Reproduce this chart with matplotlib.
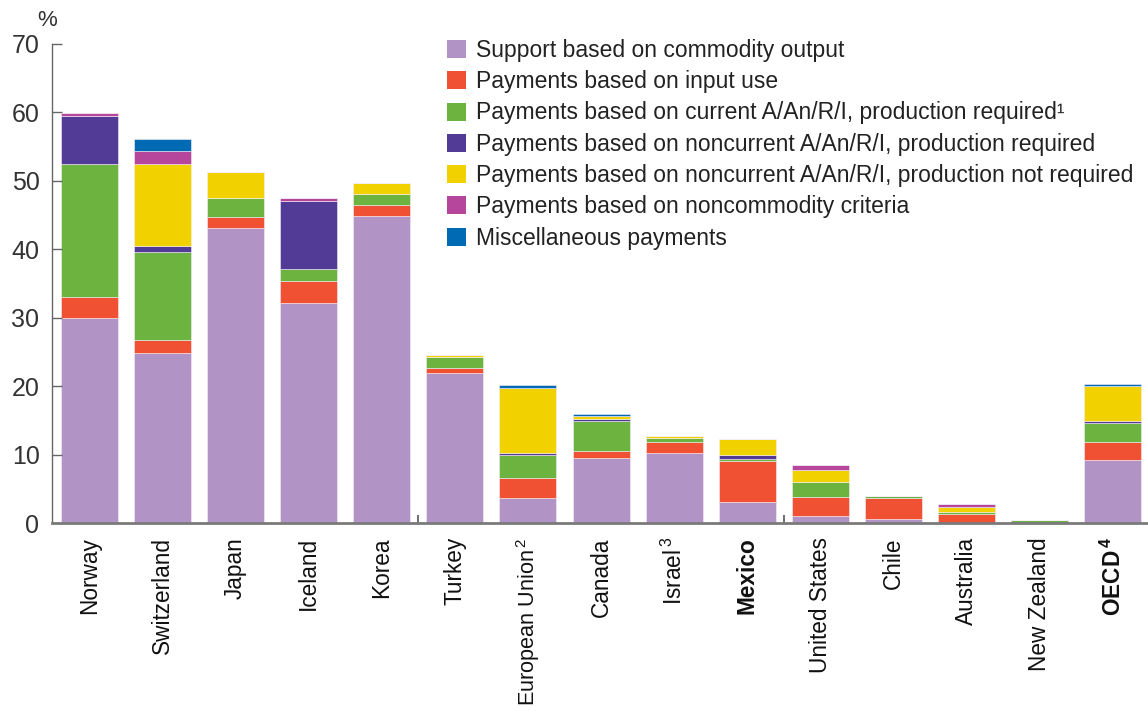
import matplotlib
matplotlib.use("Agg")
import matplotlib.pyplot as plt
import numpy as np

plt.rcParams['font.family'] = ['Liberation Sans', 'DejaVu Sans']
plt.rcParams['mathtext.fontset'] = 'custom'
plt.rcParams['mathtext.rm'] = 'Liberation Sans'
plt.rcParams['mathtext.bf'] = 'Liberation Sans:bold'

countries = ["Norway", "Switzerland", "Japan", "Iceland", "Korea", "Turkey",
             "European Union$^{\\,2}$", "Canada", "Israel$^{\\,3}$", "Mexico", "United States",
             "Chile", "Australia", "New Zealand", "OECD$^{\\,\\mathbf{4}}$"]
bold_labels = ["Mexico", "OECD$^{\\,\\mathbf{4}}$"]

series_names = [
    "Support based on commodity output",
    "Payments based on input use",
    "Payments based on current A/An/R/I, production required¹",
    "Payments based on noncurrent A/An/R/I, production required",
    "Payments based on noncurrent A/An/R/I, production not required",
    "Payments based on noncommodity criteria",
    "Miscellaneous payments",
]
colors = ["#B194C5", "#F05133", "#6DB33F", "#513B96", "#F2D100", "#B5469B", "#006AB5"]

commodity_output = [29.9, 24.8, 43.1, 32.1, 44.8, 22.0, 3.7, 9.5, 10.3, 3.1, 1.1, 0.6, 0.1, 0.05, 9.2]
input_use        = [3.1, 1.9, 1.6, 3.2, 1.6, 0.7, 2.9, 1.0, 1.6, 6.0, 2.7, 3.1, 1.2, 0.05, 2.6]
current_prod_req = [19.4, 12.9, 2.8, 1.8, 1.7, 1.6, 3.4, 4.4, 0.5, 0.3, 2.2, 0.3, 0.35, 0.4, 2.8]
noncur_prod_req  = [7.1, 0.9, 0.0, 9.9, 0.0, 0.0, 0.3, 0.3, 0.0, 0.6, 0.0, 0.0, 0.0, 0.0, 0.3]
noncur_not_req   = [0.0, 12.0, 3.8, 0.0, 1.6, 0.3, 9.4, 0.4, 0.3, 2.3, 1.8, 0.0, 0.75, 0.0, 5.1]
noncommodity     = [0.4, 1.8, 0.0, 0.4, 0.0, 0.0, 0.1, 0.1, 0.0, 0.0, 0.7, 0.0, 0.4, 0.0, 0.1]
miscellaneous    = [0.0, 1.8, 0.0, 0.0, 0.0, 0.0, 0.4, 0.3, 0.0, 0.0, 0.0, 0.0, 0.0, 0.0, 0.3]

series = [commodity_output, input_use, current_prod_req, noncur_prod_req,
          noncur_not_req, noncommodity, miscellaneous]

fig = plt.figure(figsize=(11.48, 7.11), dpi=100)
ax = fig.add_axes([52/1148, 1-523.3/711, 1-52/1148, (523.3-43.6)/711])

x = np.arange(len(countries))
bottom = np.zeros(len(countries))
handles = []
for vals, name, col in zip(series, series_names, colors):
    v = np.array(vals)
    b = ax.bar(x, v, width=0.78, bottom=bottom, color=col, label=name,
               edgecolor='#f4eef8', linewidth=0.4)
    handles.append(b)
    bottom += v

ax.set_xlim(-0.51, 14.48)
ax.set_ylim(0, 70)
ax.set_yticks(np.arange(0, 71, 10))
ax.tick_params(axis='y', direction='in', length=7, width=1, color='#666666',
               labelsize=18, labelcolor='#333333', pad=9)
ax.set_xticks(x)
ax.set_xticklabels(countries, rotation=90, fontsize=16.3, color='#111111')
for lab in ax.get_xticklabels():
    if lab.get_text() in bold_labels:
        lab.set_fontweight('bold')
    if lab.get_text().startswith("European"):
        lab.set_fontsize(15.6)
ax.tick_params(axis='x', length=0, pad=10)
ax.set_xticks([4.5, 9.5], minor=True)
ax.tick_params(axis='x', which='minor', direction='in', length=6, width=1.2, color='#555555')

for s in ['top', 'right']:
    ax.spines[s].set_visible(False)
ax.spines['left'].set_color('#666666')
ax.spines['left'].set_linewidth(1)
ax.spines['bottom'].set_color('#7a7a7a')
ax.spines['bottom'].set_linewidth(2)

fig.text(47/1148, 1-21/711, "%", fontsize=16, color='#333333', ha='center', va='center')

leg = fig.legend(handles=handles, loc='upper left', bbox_to_anchor=(447/1148, 1-39/711),
                 frameon=False, fontsize=16.5, handlelength=0.83, handleheight=0.83,
                 handletextpad=0.45, labelspacing=0.36, borderaxespad=0, borderpad=0)
for t in leg.get_texts():
    t.set_color('#222222')
for h in leg.legend_handles:
    h.set_edgecolor('none')

fig.savefig("out.png", dpi=100)
